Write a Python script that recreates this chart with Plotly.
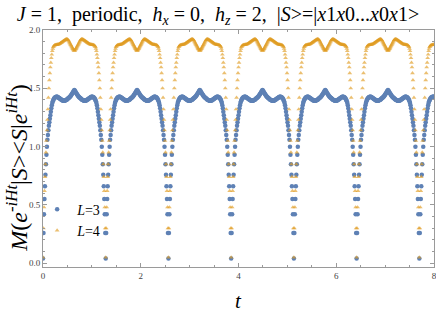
import numpy as np
import plotly.graph_objects as go

# ---- data (one period, dip at phase 0, symmetric) ----
period = 1.2833          # spacing between dips in t
samples_per_period = 128
t_max = 8.0

# L=3, values at k = 0..64 samples after a dip (k=64 is mid-period)
blue_half = [
    0.04, 0.26, 0.42, 0.55, 0.66, 0.76, 0.85, 0.93, 1.00, 1.06,
    1.10, 1.14, 1.18, 1.21, 1.24, 1.27, 1.30, 1.33, 1.355, 1.375,
    1.390, 1.400, 1.408, 1.414, 1.419, 1.423, 1.426, 1.428, 1.428, 1.427,
    1.425, 1.422, 1.419, 1.416, 1.413, 1.410, 1.407, 1.404, 1.401, 1.398,
    1.396, 1.395, 1.394, 1.394, 1.394, 1.395, 1.397, 1.399, 1.402, 1.405,
    1.408, 1.412, 1.416, 1.420, 1.424, 1.428, 1.433, 1.439, 1.445, 1.451,
    1.458, 1.465, 1.472, 1.479, 1.486,
]
# L=4
orange_half = [
    0.05, 0.30, 0.48, 0.62, 0.74, 0.85, 0.95, 1.05, 1.14, 1.23,
    1.32, 1.42, 1.50, 1.57, 1.63, 1.68, 1.72, 1.76, 1.79, 1.82,
    1.840, 1.855, 1.862, 1.867, 1.870, 1.871, 1.872, 1.873, 1.874, 1.875,
    1.876, 1.877, 1.878, 1.880, 1.882, 1.885, 1.888, 1.891, 1.894, 1.897,
    1.900, 1.903, 1.906, 1.909, 1.912, 1.915, 1.918, 1.920, 1.921, 1.921,
    1.920, 1.916, 1.910, 1.902, 1.893, 1.885, 1.877, 1.869, 1.861, 1.853,
    1.845, 1.838, 1.831, 1.825, 1.822,
]

x_tick_vals = [0, 2, 4, 6, 8]
y_tick_vals = [0.0, 0.5, 1.0, 1.5, 2.0]


def full_period(half):
    return half + half[-2:0:-1]


dt = period / samples_per_period
n = int(round(t_max / dt)) + 1
t = np.arange(n) * dt
reps = n // samples_per_period + 2
m_L3 = (full_period(blue_half) * reps)[:n]
m_L4 = (full_period(orange_half) * reps)[:n]

serif = "Liberation Serif"
frame = "#9a9a9a"

fig = go.Figure()
fig.add_trace(go.Scatter(
    x=t, y=m_L3, mode="markers", name="<i>L</i>=3",
    marker=dict(symbol="circle", size=4.5, color="#5E81B5", line=dict(width=0)),
))
fig.add_trace(go.Scatter(
    x=t, y=m_L4, mode="markers", name="<i>L</i>=4",
    marker=dict(symbol="triangle-up", size=4.2, color="#E19C24", opacity=0.65,
                line=dict(width=0)),
))

axis_common = dict(
    showline=True, linecolor=frame, linewidth=1, mirror="allticks",
    ticks="inside", ticklen=4, tickcolor=frame, tickwidth=1,
    showgrid=False, zeroline=False, automargin=False,
    ticklabeloverflow="allow",
    tickfont=dict(family=serif, size=9, color="#444"),
)

fig.update_layout(
    width=436, height=312,
    margin=dict(l=43, r=2, t=30, b=45, autoexpand=False),
    paper_bgcolor="white", plot_bgcolor="white",
    title=dict(
        text="<i>J</i> = 1,  periodic,  <i>h</i><sub><i>x</i></sub> = 0,  "
             "<i>h</i><sub><i>z</i></sub> = 2,  |<i>S</i>&gt;=|<i>x</i>1<i>x</i>0...<i>x</i>0<i>x</i>1&gt;",
        x=0.5, xanchor="center", y=0.955, yanchor="middle", yref="container",
        font=dict(family=serif, size=20, color="black"),
    ),
    xaxis=dict(range=[0, 8], tickvals=x_tick_vals,
               minor=dict(dtick=0.5, ticks="inside", ticklen=2, tickcolor=frame),
               **axis_common),
    yaxis=dict(range=[-0.032, 2.0], tickvals=y_tick_vals, tickformat=".1f",
               minor=dict(dtick=0.1, ticks="inside", ticklen=2, tickcolor=frame),
               **axis_common),
    legend=dict(x=-0.015, y=0.31, xanchor="left", yanchor="top",
                bgcolor="rgba(0,0,0,0)", font=dict(family=serif, size=14, color="black"),
                itemwidth=30, tracegroupgap=0),
    showlegend=True,
    annotations=[
        dict(text="<i>M</i>(<i>e</i><sup>-<i>iHt</i></sup>|<i>S</i>&gt;&lt;<i>S</i>|<i>e</i><sup><i>iHt</i></sup>)",
             xref="paper", yref="paper", x=-0.066, y=0.42, textangle=-90,
             showarrow=False, font=dict(family=serif, size=24, color="black"),
             xanchor="center", yanchor="middle"),
        dict(text="<i>t</i>", xref="paper", yref="paper", x=(238 - 43) / 391, y=-0.145,
             showarrow=False, font=dict(family=serif, size=21, color="black"),
             xanchor="center", yanchor="middle"),
    ],
)

fig.write_html("out.html", config={"displayModeBar": False},
               post_script="document.body.style.margin='0';document.body.style.overflow='hidden';")
